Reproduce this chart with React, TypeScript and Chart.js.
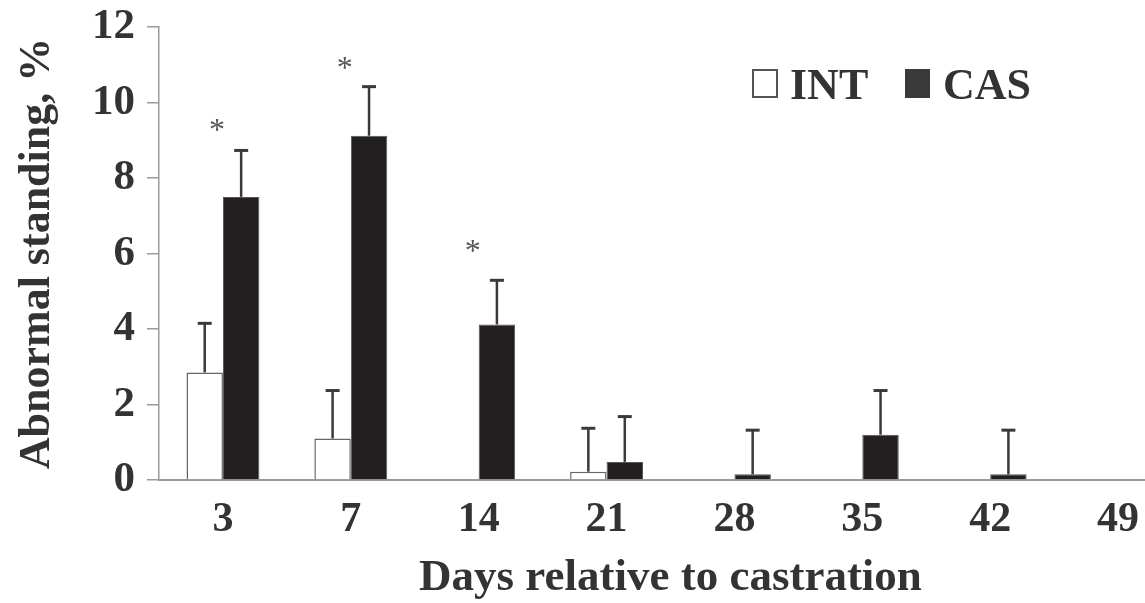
import React, { useEffect, useRef } from "react";
import { Chart, registerables } from "chart.js";

Chart.register(...registerables);

const categories = ["3", "7", "14", "21", "28", "35", "42", "49"];
const intMeans = [2.85, 1.1, 0, 0.22, 0, 0, 0, 0];
const intSE = [1.3, 1.27, 0, 1.15, 0, 0, 0, 0];
const casMeans = [7.5, 9.12, 4.12, 0.48, 0.15, 1.2, 0.15, 0];
const casSE = [1.23, 1.3, 1.17, 1.2, 1.17, 1.17, 1.17, 0];
const starCategories = ["3", "7", "14"];
const starValues = [9.4, 11.05, 6.2];
const yTicks = [0, 2, 4, 6, 8, 10, 12];

const TEXT = "#333333";
const AXIS = "#9a9a9a";
const FONT = "'Liberation Serif', 'Times New Roman', serif";

const errorBarPlugin = {
  id: "errorBars",
  afterDatasetsDraw(chart: any) {
    const ctx = chart.ctx;
    const y = chart.scales.y;
    const seList = [intSE, casSE];
    ctx.save();
    ctx.strokeStyle = "#3a3a3a";
    chart.data.datasets.forEach((ds: any, di: number) => {
      const meta = chart.getDatasetMeta(di);
      meta.data.forEach((bar: any, i: number) => {
        const se = seList[di][i];
        if (!se) return;
        const v = ds.data[i];
        const yTop = y.getPixelForValue(v + se);
        const yBase = y.getPixelForValue(v);
        ctx.lineWidth = 2.5;
        ctx.beginPath();
        ctx.moveTo(bar.x, yBase);
        ctx.lineTo(bar.x, yTop);
        ctx.stroke();
        ctx.lineWidth = 3;
        ctx.beginPath();
        ctx.moveTo(bar.x - 7, yTop);
        ctx.lineTo(bar.x + 7, yTop);
        ctx.stroke();
      });
    });
    const x = chart.scales.x;
    ctx.fillStyle = "#555555";
    ctx.font = `32px ${FONT}`;
    ctx.textAlign = "center";
    ctx.textBaseline = "alphabetic";
    starCategories.forEach((c, k) => {
      const px = x.getPixelForValue(categories.indexOf(c)) - 6;
      const py = y.getPixelForValue(starValues[k]) + 15;
      ctx.fillText("*", px, py);
    });
    ctx.restore();
  },
};

const legendPlugin = {
  id: "customLegend",
  afterDraw(chart: any) {
    const ctx = chart.ctx;
    const area = chart.chartArea;
    const left = area.left + 593;
    const top = area.top + 42;
    ctx.save();
    ctx.font = `bold 44px ${FONT}`;
    ctx.textBaseline = "alphabetic";
    ctx.textAlign = "left";
    ctx.fillStyle = "#ffffff";
    ctx.strokeStyle = "#555555";
    ctx.lineWidth = 2;
    ctx.strokeRect(left + 1, top + 1, 24, 27);
    ctx.fillStyle = TEXT;
    ctx.fillText("INT", left + 38, top + 30);
    ctx.fillStyle = "#3a3a3a";
    ctx.fillRect(left + 153, top, 25, 29);
    ctx.fillStyle = TEXT;
    ctx.fillText("CAS", left + 191, top + 30);
    ctx.restore();
  },
};

export default function App() {
  const ref = useRef<HTMLCanvasElement | null>(null);
  useEffect(() => {
    if (!ref.current) return;
    const chart = new Chart(ref.current, {
      type: "bar",
      data: {
        labels: categories,
        datasets: [
          {
            label: "INT",
            data: intMeans,
            backgroundColor: "#ffffff",
            borderColor: "#666666",
            borderWidth: 1.5,
            borderSkipped: "bottom",
          },
          {
            label: "CAS",
            data: casMeans,
            backgroundColor: "#231f20",
            borderColor: "#555555",
            borderWidth: 1,
            borderSkipped: "bottom",
          },
        ],
      },
      options: {
        animation: false,
        responsive: false,
        events: [],
        layout: { padding: { top: 27, right: 18, left: 0, bottom: 0 } },
        datasets: { bar: { categoryPercentage: 0.57, barPercentage: 1.0 } },
        plugins: {
          legend: { display: false },
          tooltip: { enabled: false },
        },
        scales: {
          x: {
            offset: true,
            grid: { display: false, drawTicks: false },
            border: { color: AXIS, width: 2 },
            ticks: {
              color: TEXT,
              font: { family: FONT, size: 42, weight: "bold" },
              padding: 15,
              maxRotation: 0,
              autoSkip: false,
            },
            title: {
              display: true,
              text: "Days relative to castration",
              color: TEXT,
              font: { family: FONT, size: 45, weight: "bold" },
              padding: { top: 0, bottom: -2 },
            },
            afterFit(scale: any) {
              scale.height = 123;
              scale.paddingLeft = 0;
              scale.paddingRight = 0;
            },
          },
          y: {
            min: 0,
            max: 12,
            afterBuildTicks(scale: any) {
              scale.ticks = yTicks.map((v) => ({ value: v }));
            },
            grid: {
              drawOnChartArea: false,
              drawTicks: true,
              tickLength: 12,
              color: AXIS,
              lineWidth: 1.5,
            },
            border: { color: AXIS, width: 1.5 },
            ticks: {
              color: TEXT,
              font: { family: FONT, size: 43, weight: "bold" },
              padding: 12,
            },
            title: {
              display: true,
              text: "Abnormal standing, %",
              color: TEXT,
              font: { family: FONT, size: 44, weight: "bold" },
              padding: { top: 11, bottom: 0 },
            },
            afterFit(scale: any) {
              scale.width = 159;
              scale.paddingTop = 0;
              scale.paddingBottom = 0;
            },
          },
        },
      },
      plugins: [errorBarPlugin, legendPlugin],
    } as any);
    return () => chart.destroy();
  }, []);

  return (
    <div
      style={{
        position: "fixed",
        left: 0,
        top: 0,
        width: 1145,
        height: 603,
        overflow: "hidden",
        background: "#ffffff",
      }}
    >
      <canvas ref={ref} width={1200} height={603} style={{ display: "block" }} />
    </div>
  );
}
